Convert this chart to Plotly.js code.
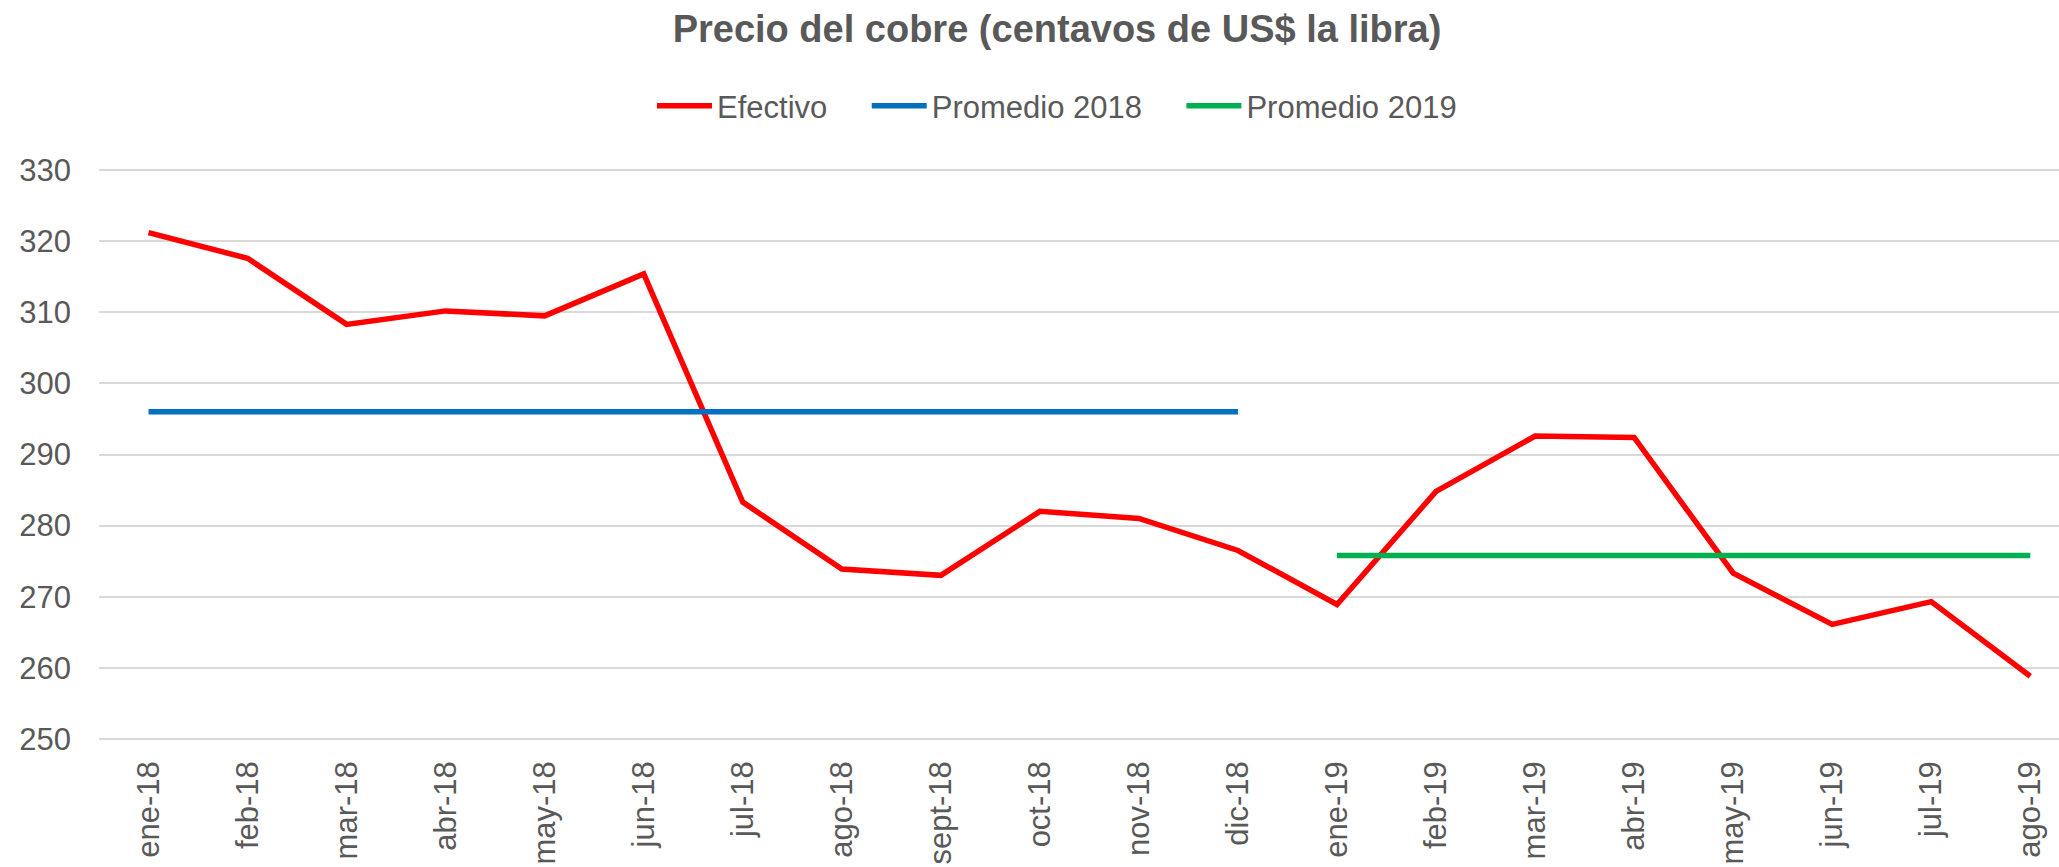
<!DOCTYPE html>
<html>
<head>
<meta charset="utf-8">
<script src="https://cdn.plot.ly/plotly-3.0.1.min.js"></script>
<style>
  html, body { margin: 0; padding: 0; background: #ffffff; }
  #chart { width: 2059px; height: 867px; }
</style>
</head>
<body>
<div id="chart"></div>
<script>
const months = ["ene-18","feb-18","mar-18","abr-18","may-18","jun-18","jul-18","ago-18","sept-18","oct-18","nov-18","dic-18",
                "ene-19","feb-19","mar-19","abr-19","may-19","jun-19","jul-19","ago-19"];
const efectivo = [321.2, 317.6, 308.3, 310.2, 309.5, 315.4, 283.3, 273.9, 273.0, 282.0, 281.0, 276.5,
                  268.9, 284.8, 292.6, 292.4, 273.3, 266.1, 269.3, 258.8];
const promedio2018 = [296.0, 296.0, 296.0, 296.0, 296.0, 296.0, 296.0, 296.0, 296.0, 296.0, 296.0, 296.0,
                      null, null, null, null, null, null, null, null];
const promedio2019 = [null, null, null, null, null, null, null, null, null, null, null, null,
                      275.8, 275.8, 275.8, 275.8, 275.8, 275.8, 275.8, 275.8];
const yTicks = [250, 260, 270, 280, 290, 300, 310, 320, 330];

const NB = "\u00a0\u00a0\u00a0\u00a0";
const textColor = "#595959";
const font = "'Liberation Sans', Arial, Helvetica, sans-serif";

const traces = [
  { x: months, y: efectivo, name: "Efectivo" + NB, type: "scatter", mode: "lines",
    line: { color: "#FF0000", width: 5.5 }, hoverinfo: "x+y" },
  { x: months, y: promedio2018, name: "Promedio 2018" + NB, type: "scatter", mode: "lines",
    line: { color: "#0070C0", width: 5.5 }, hoverinfo: "x+y" },
  { x: months, y: promedio2019, name: "Promedio 2019", type: "scatter", mode: "lines",
    line: { color: "#00B050", width: 5.5 }, hoverinfo: "x+y" }
];

const layout = {
  width: 2059, height: 867,
  paper_bgcolor: "#ffffff", plot_bgcolor: "#ffffff",
  font: { family: font, color: textColor, size: 31 },
  margin: { l: 99, r: 0, t: 167.9, b: 125.6, pad: 0 },
  title: {
    text: "<b>Precio del cobre (centavos de US$ la libra)</b>",
    font: { family: font, size: 38, color: textColor },
    xref: "container", x: 1057 / 2059, xanchor: "center",
    yref: "container", y: 1 - 28.5 / 867, yanchor: "middle"
  },
  showlegend: true,
  legend: {
    orientation: "h",
    xref: "container", x: 1057 / 2059, xanchor: "center",
    yref: "container", y: 1 - 106 / 867, yanchor: "middle",
    font: { family: font, size: 31, color: textColor },
    itemwidth: 55,
    bgcolor: "rgba(0,0,0,0)",
    traceorder: "normal"
  },
  xaxis: {
    type: "category",
    categoryorder: "array", categoryarray: months,
    range: [-0.5, 19.29],
    showgrid: false, zeroline: false, showline: false,
    ticks: "", tickangle: -90,
    tickfont: { family: font, size: 31, color: textColor },
    ticklabelstandoff: 13,
    fixedrange: true
  },
  yaxis: {
    range: [249.7, 330.3],
    tickmode: "array", tickvals: yTicks, ticktext: yTicks.map(String),
    showgrid: true, gridcolor: "#D9D9D9", gridwidth: 2,
    zeroline: false, showline: false, ticks: "",
    tickfont: { family: font, size: 31, color: textColor },
    ticklabelstandoff: 27,
    fixedrange: true
  }
};

Plotly.newPlot("chart", traces, layout, { displayModeBar: false, staticPlot: true });
</script>
</body>
</html>
